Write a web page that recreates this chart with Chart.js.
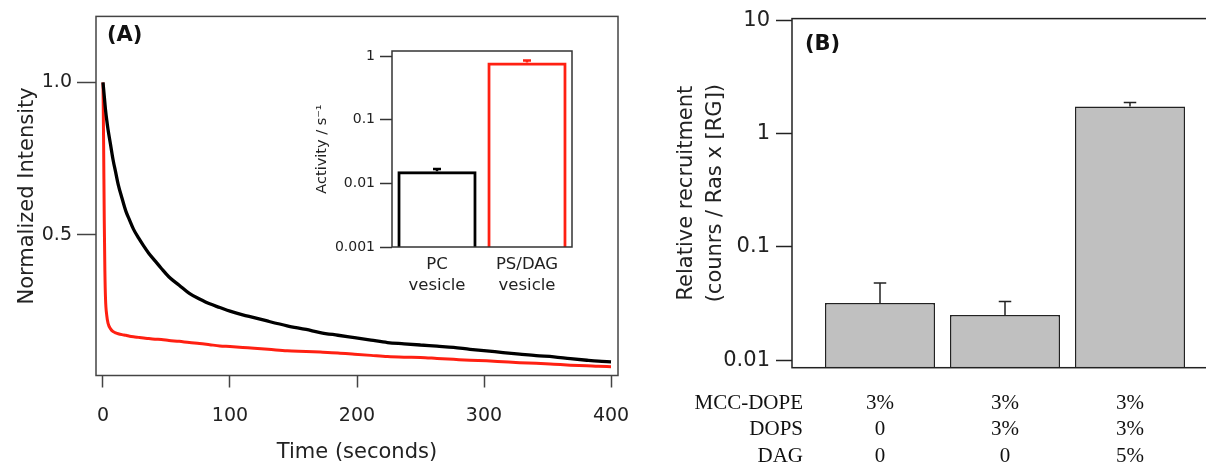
<!DOCTYPE html>
<html>
<head>
<meta charset="utf-8">
<script src="https://cdn.jsdelivr.net/npm/chart.js@4.4.1/dist/chart.umd.min.js"></script>
<style>
    html, body { margin: 0; padding: 0; background: #fff; overflow: hidden; }
    body { width: 1206px; height: 465px; position: relative; }
    canvas { position: absolute; }
    #decayChart { left: 0; top: 0; }
    #insetChart { left: 300px; top: 30px; }
    #recruitChart { left: 660px; top: 0; }
</style>
</head>
<body>
<canvas id="decayChart" width="640" height="465"></canvas>
<canvas id="insetChart" width="290" height="275"></canvas>
<canvas id="recruitChart" width="560" height="465"></canvas>
<script>
// Painel A - curvas de decaimento
const decayTimes = [0, 0.5, 1, 1.5, 2, 3, 4, 6, 8, 10, 12, 15, 18, 21, 24, 28, 32, 36, 41, 46, 52, 60, 68, 76, 84, 92, 100, 110, 119, 130, 145, 160, 171, 185, 198, 211, 224, 237, 250, 263, 276, 289, 302, 315, 328, 341, 355, 368, 381, 390, 400];
const pcTrace = [1.0, 0.978, 0.955, 0.932, 0.91, 0.875, 0.845, 0.795, 0.745, 0.705, 0.665, 0.62, 0.578, 0.548, 0.519, 0.49, 0.464, 0.44, 0.415, 0.39, 0.362, 0.335, 0.308, 0.29, 0.274, 0.262, 0.25, 0.238, 0.229, 0.217, 0.202, 0.19, 0.180, 0.171, 0.163, 0.155, 0.147, 0.143, 0.139, 0.135, 0.131, 0.125, 0.120, 0.114, 0.109, 0.104, 0.100, 0.094, 0.089, 0.086, 0.084];
const psDagTrace = [1.0, 0.80, 0.55, 0.38, 0.29, 0.235, 0.21, 0.192, 0.183, 0.179, 0.176, 0.173, 0.171, 0.168, 0.166, 0.164, 0.162, 0.160, 0.158, 0.157, 0.154, 0.151, 0.147, 0.144, 0.140, 0.136, 0.134, 0.131, 0.128, 0.125, 0.120, 0.118, 0.116, 0.113, 0.109, 0.105, 0.101, 0.099, 0.098, 0.095, 0.092, 0.089, 0.087, 0.084, 0.081, 0.079, 0.076, 0.073, 0.071, 0.069, 0.068];
const decayXTicks = [0, 100, 200, 300, 400];
const decayYTicks = [0.5, 1.0];

// Inset - atividade
const insetLabels = [['PC', 'vesicle'], ['PS/DAG', 'vesicle']];
const insetActivity = [0.0156, 0.80];
const insetError = [0.0169, 0.86];
const insetTicks = [0.001, 0.01, 0.1, 1];

// Painel B - recrutamento
const recruitValues = [0.032, 0.025, 1.75];
const recruitError = [0.048, 0.033, 1.90];
const recruitTicks = [0.01, 0.1, 1, 10];
const tableRows = ['MCC-DOPE', 'DOPS', 'DAG'];
const mccDope = ['3%', '3%', '3%'];
const dops = ['0', '3%', '3%'];
const dag = ['0', '0', '5%'];

const RED = 'rgb(255, 32, 18)';
const TXT = '#222';
const SANS = '"DejaVu Sans", sans-serif';

// moldura em volta da área do gráfico
const framePlugin = {
    id: 'frame',
    afterDraw(chart, args, opts) {
        const { ctx, chartArea: a } = chart;
        ctx.save();
        ctx.strokeStyle = opts.color || '#333';
        ctx.lineWidth = opts.width || 1.5;
        ctx.strokeRect(a.left, a.top, a.right - a.left, a.bottom - a.top);
        ctx.restore();
    }
};

// barras de erro (só para cima)
const errorBarPlugin = {
    id: 'errorBars',
    afterDatasetsDraw(chart, args, opts) {
        if (!opts.values) return;
        const meta = chart.getDatasetMeta(0);
        const y = chart.scales.y;
        const ctx = chart.ctx;
        ctx.save();
        ctx.lineWidth = opts.lineWidth;
        meta.data.forEach((bar, i) => {
            const top = y.getPixelForValue(opts.values[i]);
            ctx.strokeStyle = Array.isArray(opts.color) ? opts.color[i] : opts.color;
            ctx.beginPath();
            ctx.moveTo(bar.x, bar.y);
            ctx.lineTo(bar.x, top);
            ctx.moveTo(bar.x - opts.cap / 2, top);
            ctx.lineTo(bar.x + opts.cap / 2, top);
            ctx.stroke();
        });
        ctx.restore();
    }
};

// (A) / (B)
const panelLabelPlugin = {
    id: 'panelLabel',
    afterDraw(chart, args, opts) {
        if (!opts.text) return;
        const { ctx, chartArea } = chart;
        ctx.save();
        ctx.font = 'bold 21px ' + SANS;
        ctx.fillStyle = '#111';
        ctx.textBaseline = 'middle';
        ctx.fillText(opts.text, chartArea.left + opts.dx, chartArea.top + opts.dy);
        ctx.restore();
    }
};

// tabela de composição abaixo do painel B
const tablePlugin = {
    id: 'compTable',
    afterDraw(chart) {
        const ctx = chart.ctx;
        const x = chart.scales.x;
        const rows = [mccDope, dops, dag];
        const rowY = [403, 429, 456];
        ctx.save();
        ctx.font = '21px "Liberation Serif", serif';
        ctx.fillStyle = '#111';
        ctx.textBaseline = 'middle';
        rows.forEach((row, r) => {
            ctx.textAlign = 'right';
            ctx.fillText(tableRows[r], 143, rowY[r]);
            ctx.textAlign = 'center';
            row.forEach((v, i) => ctx.fillText(v, x.getPixelForValue(i + 1), rowY[r]));
        });
        ctx.restore();
    }
};

const fixedTicks = list => scale => { scale.ticks = list.map(v => ({ value: v })); };

// ---------- Painel A ----------
new Chart(document.getElementById('decayChart'), {
    type: 'line',
    data: {
        labels: decayTimes,
        datasets: [
            { data: pcTrace, borderColor: '#000', borderWidth: 3.3, pointRadius: 0, cubicInterpolationMode: 'monotone' },
            { data: psDagTrace, borderColor: RED, borderWidth: 3, pointRadius: 0, cubicInterpolationMode: 'monotone' }
        ]
    },
    options: {
        responsive: false,
        animation: false,
        devicePixelRatio: 1,
        layout: { padding: { left: 11.4, right: 22, top: 14, bottom: 0 } },
        plugins: {
            legend: { display: false },
            tooltip: { enabled: false },
            frame: { color: '#444', width: 1.5 },
            panelLabel: { text: '(A)', dx: 11, dy: 19 }
        },
        scales: {
            x: {
                type: 'linear',
                min: -5.5,
                max: 405.5,
                afterBuildTicks: fixedTicks(decayXTicks),
                afterFit: s => { s.height = 89.5; s.paddingLeft = 0; s.paddingRight = 0; },
                border: { display: false },
                grid: { drawOnChartArea: false, tickLength: 12, tickColor: '#444', tickWidth: 1.5 },
                ticks: { autoSkip: false, maxRotation: 0, padding: 17, color: TXT, font: { family: SANS, size: 19 } },
                title: { display: true, text: 'Time (seconds)', color: TXT, padding: { top: 0, bottom: 0 }, font: { family: SANS, size: 21 } }
            },
            y: {
                min: 0.039,
                max: 1.2166,
                afterBuildTicks: fixedTicks(decayYTicks),
                afterFit: s => { s.width = 84.6; },
                border: { display: false },
                grid: { drawOnChartArea: false, tickLength: 19, tickColor: '#444', tickWidth: 1.5 },
                ticks: { autoSkip: false, padding: 5, color: TXT, font: { family: SANS, size: 19 }, callback: v => v.toFixed(1) },
                title: { display: true, text: 'Normalized Intensity', color: TXT, font: { family: SANS, size: 21 } }
            }
        }
    },
    plugins: [framePlugin, panelLabelPlugin]
});

// ---------- Inset ----------
new Chart(document.getElementById('insetChart'), {
    type: 'bar',
    data: {
        labels: insetLabels,
        datasets: [{
            data: insetActivity,
            backgroundColor: 'rgba(0,0,0,0)',
            borderColor: ['#000', RED],
            borderWidth: 3,
            borderSkipped: 'start',
            categoryPercentage: 1,
            barPercentage: 0.88
        }]
    },
    options: {
        responsive: false,
        animation: false,
        devicePixelRatio: 1,
        layout: { padding: { left: 9.3, right: 18, top: 21, bottom: 0 } },
        plugins: {
            legend: { display: false },
            tooltip: { enabled: false },
            frame: { color: '#333', width: 1.5 },
            errorBars: { values: insetError, color: ['#000', RED], cap: 8, lineWidth: 2.5 }
        },
        scales: {
            x: {
                afterFit: s => { s.height = 58; },
                border: { display: false },
                grid: { display: false },
                ticks: { padding: -1, color: TXT, font: { family: SANS, size: 16.5, lineHeight: 1.27 } }
            },
            y: {
                type: 'logarithmic',
                min: 0.001,
                max: 1.21,
                afterBuildTicks: fixedTicks(insetTicks),
                afterFit: s => { s.width = 82.7; },
                border: { display: false },
                grid: { drawOnChartArea: false, tickLength: 12, tickColor: '#333', tickWidth: 1.5 },
                ticks: { autoSkip: false, padding: 5, color: TXT, font: { family: SANS, size: 14 }, callback: v => String(v) },
                title: { display: true, text: 'Activity / s⁻¹', color: TXT, font: { family: SANS, size: 14.5 } }
            }
        }
    },
    plugins: [framePlugin, errorBarPlugin]
});

// ---------- Painel B ----------
new Chart(document.getElementById('recruitChart'), {
    type: 'bar',
    data: {
        datasets: [{
            data: recruitValues.map((v, i) => ({ x: i + 1, y: v })),
            backgroundColor: '#c0c0c0',
            borderColor: '#222',
            borderWidth: 1.5,
            borderSkipped: 'start',
            categoryPercentage: 1,
            barPercentage: 0.88
        }]
    },
    options: {
        responsive: false,
        animation: false,
        devicePixelRatio: 1,
        layout: { padding: { left: 8.5, right: 0, top: 16.7, bottom: 97.3 } },
        plugins: {
            legend: { display: false },
            tooltip: { enabled: false },
            frame: { color: '#222', width: 1.5 },
            errorBars: { values: recruitError, color: '#222', cap: 12.5, lineWidth: 1.5 },
            panelLabel: { text: '(B)', dx: 13, dy: 26 }
        },
        scales: {
            x: {
                type: 'linear',
                min: 0.296,
                max: 3.72,
                offset: false,
                afterBuildTicks: fixedTicks(recruitValues.map((v, i) => i + 1)),
                display: false
            },
            y: {
                type: 'logarithmic',
                min: 0.00856,
                max: 10.47,
                afterBuildTicks: fixedTicks(recruitTicks),
                afterFit: s => { s.width = 123.5; },
                border: { display: false },
                grid: { drawOnChartArea: false, tickLength: 16, tickColor: '#222', tickWidth: 1.5 },
                ticks: { autoSkip: false, padding: 6, color: TXT, font: { family: SANS, size: 21 }, callback: v => String(v) },
                title: {
                    display: true,
                    text: ['Relative recruitment', '(counrs / Ras x [RG])'],
                    color: TXT,
                    font: { family: SANS, size: 21, lineHeight: 1.38 }
                }
            }
        }
    },
    plugins: [framePlugin, errorBarPlugin, panelLabelPlugin, tablePlugin]
});
</script>
</body>
</html>
